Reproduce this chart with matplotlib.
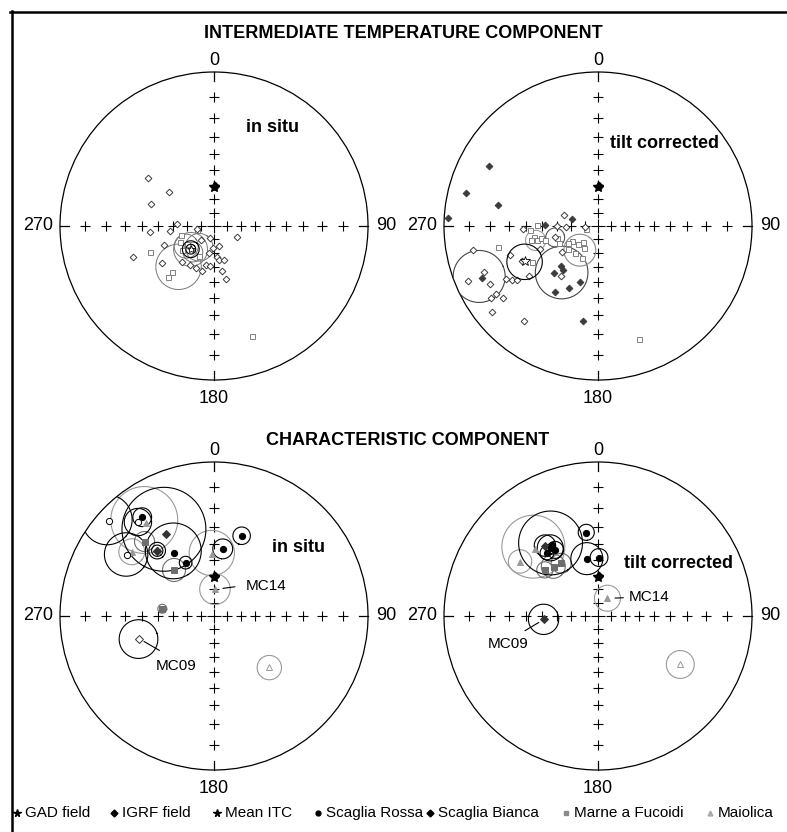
import numpy as np
import matplotlib
matplotlib.use("Agg")
import matplotlib.pyplot as plt
from matplotlib.patches import Circle
from matplotlib.lines import Line2D

plt.rcParams['font.family'] = ['Liberation Sans', 'DejaVu Sans']

# ---------------- data (declination, inclination in deg; a95 in deg) ----------------
gad_dec, gad_inc = 0.0, 61.5
igrf_dec, igrf_inc = 2.0, 61.0

# intermediate temperature component, in situ
itc_is_sb_dec = [306, 307, 289, 273, 265, 263, 260, 115, 198, 167, 249, 249, 234, 222,
                 212, 203, 195, 192, 186, 175, 171, 163, 190, 170, 167, 224, 182]
itc_is_sb_inc = [-34, -50, -43, -63, -45, -58, -77, -71, -81, -75, -31, -52, -45, -55,
                 -57, -57, -56, -61, -61, -67, -65, -64, -70, -57, -51, -76, -74]
itc_is_mf_dec = [248, 254, 245, 207, 257, 233, 222, 222, 161, 236]
itc_is_mf_inc = [-42, -65, -63, -65, -77, -61, -46, -42, -16, -66]
itc_is_cone_dec = [221, 225, 215, 234, 219]
itc_is_cone_inc = [-52, -66, -71, -65, -65.5]
itc_is_cone_a95 = [15, 12, 10, 8.5, 7]
itc_is_mean = (225, -66, [3.5, 6.0])

# intermediate temperature component, tilt corrected
itc_tc_sb_dec = [299, 284, 282, 273, 271, 284, 223, 218, 223, 213, 205, 198, 246, 189,
                 259, 248, 242, 247, 236, 236, 233, 231, 240, 238, 236, 234, 252, 245,
                 268, 248, 256, 288, 270, 269, 234, 217, 218, 265]
itc_tc_sb_inc = [12, 7, 23, 1.6, 52, 70, 51, 50, 45, 36, 42, 48, 11, 26,
                 -11, -13, -13, -5, -10, -13, -14.5, -7, -21, -23, -25.5, -32, -28, -33,
                 -38, -46, -58, -64, -60.5, -66.5, -58, -46, -14, -80]
itc_tc_mf_dec = [258, 271, 241, 267, 260, 257, 258, 258, 255, 247, 232, 240, 221, 207,
                 229, 224, 255, 213, 241, 254, 160]
itc_tc_mf_inc = [-23, -47, -38, -42, -44, -46, -48.5, -42, -51, -59, -62.5, -68, -64, -64,
                 -70, -74, -81, -71, -65, -59, -14]
itc_tc_cone_dec = [247, 218, 257, 255, 217]
itc_tc_cone_inc = [11, 49, -45, -58, -68]
itc_tc_cone_a95 = [11.4, 17, 6.4, 6.5, 11.4]
itc_tc_cone_col = ['#444444', '#444444', '#999999', '#555555', '#888888']
itc_tc_mean = (244, -34.6, [10.3])

# characteristic component, in situ
chrm_is_sr_dec = [324, 321, 19, 7.4, 328, 332, 312, 305]
chrm_is_sr_inc = [13.3, -14, 32.4, 42.7, 38.2, 47.2, -4.7, -21]
chrm_is_sr_a95 = [4.3, 6.3, 5.0, 6.2, 16.6, 4.1, 10, 10.9]
chrm_is_sb_dec = [330, 319, 319, 253]
chrm_is_sb_inc = [26.6, 31.4, 31.4, -36.3]
chrm_is_sb_a95 = [22, 4.7, 3.2, 11.4]
chrm_is_sb_site = ['', '', '', 'MC09']
chrm_is_mf_dec = [317, 319, 278]
chrm_is_mf_inc = [23.2, 47, 52.6]
chrm_is_mf_a95 = [5.2, 7.4, 3.0]
chrm_is_mai_dec = [324, 308, 358, 2, 133]
chrm_is_mai_inc = [16.4, 22, 46.2, 70.4, -37.9]
chrm_is_mai_a95 = [15.7, 6.6, 14.4, 11, 7.3]
chrm_is_mai_site = ['', '', '', 'MC14', '']

# characteristic component, tilt corrected
chrm_tc_sr_dec = [325, 321, 327, 352, 1, 349, 327]
chrm_tc_sr_inc = [33.5, 34.5, 35.9, 32.6, 48.5, 48.8, 32.6]
chrm_tc_sr_a95 = [7.5, 4, 5, 4.6, 5.8, 10.4, 18]
chrm_tc_sb_dec = [323, 266.5]
chrm_tc_sb_inc = [30.6, 51.3]
chrm_tc_sb_a95 = [6, 10]
chrm_tc_sb_site = ['', 'MC09']
chrm_tc_mf_dec = [318, 325, 311]
chrm_tc_mf_inc = [43.3, 44.8, 41]
chrm_tc_mf_a95 = [7.5, 6.3, 5]
chrm_tc_mai_dec = [305, 317, 28, 120.5]
chrm_tc_mai_inc = [26.8, 28.3, 75.2, -26.7]
chrm_tc_mai_a95 = [6.3, 17, 9.5, 7.5]
chrm_tc_mai_site = ['', '', 'MC14', '']

# ---------------- projection helpers (equal-angle, lower hemisphere) ----------------
def proj(dec, inc):
    d = np.radians(np.asarray(dec, float))
    i = np.radians(np.abs(np.asarray(inc, float)))
    r = np.tan((np.pi / 2 - i) / 2)
    return r * np.sin(d), r * np.cos(d)


def cone(dec, inc, a95, n=241):
    d, i, a = np.radians([dec, abs(inc), a95])
    v = np.array([np.cos(i) * np.cos(d), np.cos(i) * np.sin(d), np.sin(i)])
    u = np.array([-np.sin(i) * np.cos(d), -np.sin(i) * np.sin(d), np.cos(i)])
    w = np.cross(v, u)
    t = np.linspace(0, 2 * np.pi, n)
    p = np.cos(a) * v[:, None] + np.sin(a) * (np.cos(t) * u[:, None] + np.sin(t) * w[:, None])
    theta = np.arccos(np.clip(p[2], -1, 1))
    h = np.hypot(p[0], p[1])
    r = np.tan(theta / 2)
    return r * p[1] / h, r * p[0] / h


W, H = 787, 832
fig = plt.figure(figsize=(W / 100, H / 100), dpi=100)
R = 154.0
ext = 1.25


def make_net(cx, cy):
    ax = fig.add_axes([(cx - R * ext) / W, (H - cy - R * ext) / H, 2 * R * ext / W, 2 * R * ext / H])
    ax.set_xlim(-ext, ext)
    ax.set_ylim(-ext, ext)
    ax.axis('off')
    prim = Circle((0, 0), 1, fill=False, lw=0.9, color='k', zorder=1)
    ax.add_patch(prim)
    incs = np.arange(10, 90, 10)
    for dd in (0, 90, 180, 270):
        x, y = proj(np.full(incs.size, dd), incs)
        ax.plot(x, y, ls='none', marker='+', ms=6.5, mew=0.8, color='k', zorder=1)
        ex, ey = np.sin(np.radians(dd)), np.cos(np.radians(dd))
        ax.plot([ex, 0.94 * ex], [ey, 0.94 * ey], color='k', lw=0.9, zorder=1)
    ax.plot(0, 0, marker='+', ms=10, mew=0.8, color='k', zorder=1)
    kw = dict(fontsize=13, va='center')
    ax.text(0, 1.075, '0', ha='center', **kw)
    ax.text(0, -1.12, '180', ha='center', **kw)
    ax.text(-1.045, 0, '270', ha='right', **kw)
    ax.text(1.055, 0, '90', ha='left', **kw)
    return ax, prim


def dirs(ax, dec, inc, marker, color, ms, mew=0.7, zorder=4, open_col=None):
    dec = np.asarray(dec, float)
    inc = np.asarray(inc, float)
    x, y = proj(dec, inc)
    dn = inc >= 0
    ax.plot(x[dn], y[dn], ls='none', marker=marker, ms=ms, mfc=color, mec=color, mew=mew, zorder=zorder)
    ax.plot(x[~dn], y[~dn], ls='none', marker=marker, ms=ms, mfc='white',
            mec=open_col or color, mew=mew, zorder=zorder)


def cones(ax, prim, dec, inc, a95, color, lw=0.8, zorder=2):
    cols = color if isinstance(color, list) else [color] * len(dec)
    for d, i, a, c in zip(dec, inc, a95, cols):
        x, y = cone(d, i, a)
        ln, = ax.plot(x, y, color=c, lw=lw, zorder=zorder)
        ln.set_clip_path(prim)


def reference(ax):
    x, y = proj([igrf_dec], [igrf_inc])
    ax.plot(x, y, ls='none', marker='D', ms=4.5, color='k', zorder=6)
    x, y = proj([gad_dec], [gad_inc])
    ax.plot(x, y, ls='none', marker='*', ms=8, color='k', zorder=7)


def site_labels(ax, dec, inc, names, offsets):
    for d, i, nm in zip(dec, inc, names):
        if not nm:
            continue
        (lx, ly), (tx, ty, ha), shr = offsets[nm]
        x, y = proj([d], [i])
        ax.annotate('', xy=(x[0], y[0]), xytext=(lx, ly), textcoords='offset points',
                    arrowprops=dict(arrowstyle='-', lw=0.8, color='k', shrinkA=0, shrinkB=shr))
        ax.annotate(nm, xy=(x[0], y[0]), xytext=(tx, ty), textcoords='offset points',
                    ha=ha, va='center', fontsize=11)


blk, dgray, gray, lgray = 'k', '#555555', '#6e6e6e', '#999999'

# ---- top left: ITC in situ
ax, prim = make_net(214, 226)
cones(ax, prim, itc_is_cone_dec, itc_is_cone_inc, itc_is_cone_a95, '#777777', lw=0.7)
dirs(ax, itc_is_mf_dec, itc_is_mf_inc, 's', '#808080', 3.6)
dirs(ax, itc_is_sb_dec, itc_is_sb_inc, 'D', '#3c3c3c', 3.4)
cones(ax, prim, [itc_is_mean[0]] * 2, [itc_is_mean[1]] * 2, itc_is_mean[2], blk, lw=0.8, zorder=5)
dirs(ax, [itc_is_mean[0]], [itc_is_mean[1]], '*', blk, 6, mew=0.6, zorder=6)
reference(ax)

# ---- top right: ITC tilt corrected
ax, prim = make_net(598, 226)
cones(ax, prim, itc_tc_cone_dec, itc_tc_cone_inc, itc_tc_cone_a95, itc_tc_cone_col, lw=0.8)
dirs(ax, itc_tc_mf_dec, itc_tc_mf_inc, 's', '#808080', 3.6)
dirs(ax, itc_tc_sb_dec, itc_tc_sb_inc, 'D', '#3c3c3c', 3.4)
cones(ax, prim, [itc_tc_mean[0]], [itc_tc_mean[1]], itc_tc_mean[2], blk, lw=0.8, zorder=5)
dirs(ax, [itc_tc_mean[0]], [itc_tc_mean[1]], '*', blk, 7, mew=0.6, zorder=6)
reference(ax)

# ---- bottom left: ChRM in situ
ax, prim = make_net(214, 616)
cones(ax, prim, chrm_is_mai_dec, chrm_is_mai_inc, chrm_is_mai_a95, lgray)
cones(ax, prim, chrm_is_mf_dec, chrm_is_mf_inc, chrm_is_mf_a95, gray)
cones(ax, prim, chrm_is_sb_dec, chrm_is_sb_inc, chrm_is_sb_a95, blk)
cones(ax, prim, chrm_is_sr_dec, chrm_is_sr_inc, chrm_is_sr_a95, blk)
dirs(ax, chrm_is_mai_dec, chrm_is_mai_inc, '^', lgray, 5)
dirs(ax, chrm_is_mf_dec, chrm_is_mf_inc, 's', gray, 4.2)
dirs(ax, chrm_is_sb_dec, chrm_is_sb_inc, 'D', '#333333', 4)
dirs(ax, chrm_is_sr_dec, chrm_is_sr_inc, 'o', blk, 4.5)
reference(ax)
site_labels(ax, chrm_is_mai_dec, chrm_is_mai_inc, chrm_is_mai_site,
            {'MC14': ((14.4, 1.9), (22.3, 2.6, 'left'), 5.8)})
site_labels(ax, chrm_is_sb_dec, chrm_is_sb_inc, chrm_is_sb_site,
            {'MC09': ((14.4, -8.4), (26.4, -19.9, 'center'), 3.8)})

# ---- bottom right: ChRM tilt corrected
ax, prim = make_net(598, 616)
cones(ax, prim, chrm_tc_mai_dec, chrm_tc_mai_inc, chrm_tc_mai_a95, lgray)
cones(ax, prim, chrm_tc_mf_dec, chrm_tc_mf_inc, chrm_tc_mf_a95, gray)
cones(ax, prim, chrm_tc_sb_dec, chrm_tc_sb_inc, chrm_tc_sb_a95, blk)
cones(ax, prim, chrm_tc_sr_dec, chrm_tc_sr_inc, chrm_tc_sr_a95, blk)
dirs(ax, chrm_tc_mai_dec, chrm_tc_mai_inc, '^', lgray, 5)
dirs(ax, chrm_tc_mf_dec, chrm_tc_mf_inc, 's', gray, 4.2)
dirs(ax, chrm_tc_sb_dec, chrm_tc_sb_inc, 'D', '#333333', 4)
dirs(ax, chrm_tc_sr_dec, chrm_tc_sr_inc, 'o', blk, 4.5)
reference(ax)
site_labels(ax, chrm_tc_mai_dec, chrm_tc_mai_inc, chrm_tc_mai_site,
            {'MC14': ((11.5, 0.4), (15.6, 1.2, 'left'), 5.5)})
site_labels(ax, chrm_tc_sb_dec, chrm_tc_sb_inc, chrm_tc_sb_site,
            {'MC09': ((-13.7, -8.2), (-25.7, -18, 'center'), 4.4)})

# ---- texts
def ftext(x, y, s, **kw):
    fig.text(x / W, 1 - y / H, s, va='center', **kw)

ftext(403, 33, 'INTERMEDIATE TEMPERATURE COMPONENT', ha='center', fontsize=13, weight='bold')
ftext(408, 441, 'CHARACTERISTIC COMPONENT', ha='center', fontsize=13, weight='bold')
ftext(272, 127, 'in situ', ha='center', fontsize=13, weight='bold')
ftext(664, 143, 'tilt corrected', ha='center', fontsize=13, weight='bold')
ftext(298, 548, 'in situ', ha='center', fontsize=13, weight='bold')
ftext(679, 564, 'tilt corrected', ha='center', fontsize=13, weight='bold')

# frame (top and left edges)
fig.add_artist(Line2D([10 / W, 1], [1 - 11.5 / H] * 2, transform=fig.transFigure, color='k', lw=1.8))
fig.add_artist(Line2D([11.5 / W] * 2, [1 - 10.5 / H, 0], transform=fig.transFigure, color='k', lw=1.8))

# ---- legend row
leg_labels = ['GAD field', 'IGRF field', 'Mean ITC', 'Scaglia Rossa', 'Scaglia Bianca',
              'Marne a Fucoidi', 'Maiolica']
leg_markers = ['*', 'D', '*', 'o', 'D', 's', '^']
leg_colors = ['k', 'k', 'k', 'k', 'k', '#8a8a8a', '#aaaaaa']
leg_x = [17, 114, 217, 318, 430, 566, 710]
lax = fig.add_axes([0, 0, 1, 1], facecolor='none')
lax.set_xlim(0, W)
lax.set_ylim(H, 0)
lax.axis('off')
for lab, mk, c, x0 in zip(leg_labels, leg_markers, leg_colors, leg_x):
    lax.plot(x0, 813, marker=mk, ms=3.5 if mk != '*' else 5.5, color=c, ls='none')
    lax.text(x0 + 8, 813, lab, fontsize=11, va='center', ha='left')

fig.savefig('out.png', dpi=100)
